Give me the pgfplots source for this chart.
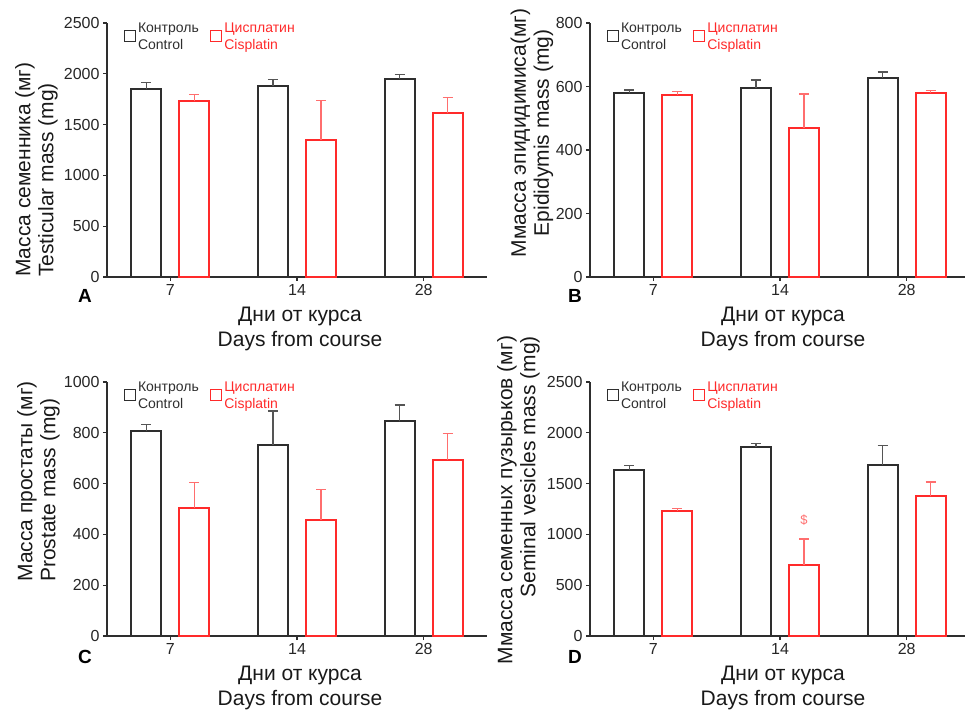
\documentclass[border=0pt]{standalone}
\usepackage{pgfplots}
\pgfplotsset{compat=1.18}
\usepackage{fontspec}
\setmainfont{Liberation Sans}
\definecolor{ctrl}{HTML}{2E2E2E}
\definecolor{ctrlerr}{HTML}{555555}
\definecolor{cis}{HTML}{FF2A2A}
\definecolor{ciserr}{HTML}{FF6E6E}

\pgfplotsset{
  panel/.style={
    scale only axis, width=380pt, height=254pt,
    xmin=-0.5, xmax=2.5, ymin=0,
    axis x line=bottom, axis y line=left,
    axis line style={-, draw=ctrl, line width=1.5pt},
    xtick={0,1,2}, xticklabels={7,14,28},
    tick align=outside, major tick length=4pt,
    tick style={draw=ctrl, line width=1.2pt},
    tick label style={font=\fontsize{16}{18}\selectfont, text=black!85},
    /pgf/number format/assume math mode=true,
    /pgf/number format/1000 sep={},
    xlabel={Дни от курса\\Days from course},
    xlabel style={at={(axis description cs:0.5,0)}, anchor=north, yshift=-30pt, xshift=3pt,
      inner sep=0pt, align=center, font=\fontsize{21}{25}\selectfont, text=black!90},
    ylabel style={font=\fontsize{21}{23}\selectfont, inner sep=0pt, text=black!90},
    clip=false,
    legend columns=2,
    legend style={draw=none, fill=none, font=\fontsize{14}{17}\selectfont,
      at={(axis description cs:0.043,1.02)}, anchor=north west, inner sep=0pt,
      /tikz/every even column/.append style={column sep=9pt}},
  },
  ctrlbar/.style={ybar, bar width=30pt, bar shift=0pt, draw=ctrl, fill=white, line width=2pt,
    legend image code/.code={\draw[draw=ctrl, line width=1.5pt, fill=white] (0pt,-10.5pt) rectangle (11pt,0.5pt);},
    error bars/.cd, y dir=plus, y explicit, error mark=|,
    error bar style={draw=ctrlerr, line width=1.3pt},
    error mark options={draw=ctrlerr, line width=1.3pt, mark size=5pt}},
  cisbar/.style={ybar, bar width=30pt, bar shift=0pt, draw=cis, fill=white, line width=2pt,
    legend image code/.code={\draw[draw=cis, line width=1.5pt, fill=white] (0pt,-10.5pt) rectangle (11pt,0.5pt);},
    error bars/.cd, y dir=plus, y explicit, error mark=|,
    error bar style={draw=ciserr, line width=1.3pt},
    error mark options={draw=ciserr, line width=1.3pt, mark size=5pt}},
}
\newcommand{\legctrl}{\addlegendentry{\begin{tabular}{@{}l@{}}\textcolor{ctrl}{Контроль}\\\textcolor{ctrl}{Control}\end{tabular}}}
\newcommand{\legcis}{\addlegendentry{\begin{tabular}{@{}l@{}}\textcolor{cis}{Цисплатин}\\\textcolor{cis}{Cisplatin}\end{tabular}}}

\begin{document}
\begin{tikzpicture}
\useasboundingbox (0,0) rectangle (965pt,709pt);
\clip (0,0) rectangle (965pt,709pt);

% A: testes  (control at day-0.19, cisplatin at day+0.19)
\begin{axis}[panel, at={(107pt,432pt)}, anchor=south west,
  ymax=2500, ytick={0,500,...,2500},
  ylabel={Масса семенника (мг)\\Testicular mass (mg)},
  ylabel style={align=left, at={(axis description cs:-0.129,0)}, anchor=south west}]
  \addplot[ctrlbar] coordinates {(-0.19,1849) +- (0,65) (0.81,1882) +- (0,65) (1.81,1947) +- (0,46)};
  \legctrl
  \addplot[cisbar] coordinates {(0.19,1730) +- (0,69) (1.19,1352) +- (0,385) (2.19,1612) +- (0,154)};
  \legcis
\end{axis}

% B: epididymis
\begin{axis}[panel, at={(590pt,432pt)}, anchor=south west,
  ymax=800, ytick={0,200,...,800},
  ylabel={Ммасса эпидидимиса(мг)\\Epididymis mass (mg)},
  ylabel style={align=center, at={(axis description cs:-0.096,0.567)}, anchor=south}]
  \addplot[ctrlbar] coordinates {(-0.19,578) +- (0,11) (0.81,595) +- (0,25) (1.81,628) +- (0,18)};
  \legctrl
  \addplot[cisbar] coordinates {(0.19,574) +- (0,10) (1.19,470) +- (0,106) (2.19,579) +- (0,8)};
  \legcis
\end{axis}

% C: prostate
\begin{axis}[panel, at={(107pt,73pt)}, anchor=south west,
  ymax=1000, ytick={0,200,...,1000},
  ylabel={Масса простаты (мг)\\Prostate mass (mg)},
  ylabel style={align=left, at={(axis description cs:-0.124,0.213)}, anchor=south west}]
  \addplot[ctrlbar] coordinates {(-0.19,809) +- (0,25) (0.81,753) +- (0,133) (1.81,845) +- (0,64)};
  \legctrl
  \addplot[cisbar] coordinates {(0.19,503) +- (0,100) (1.19,457) +- (0,121) (2.19,693) +- (0,104)};
  \legcis
\end{axis}

% D: seminal vesicles
\begin{axis}[panel, at={(590pt,73pt)}, anchor=south west,
  ymax=2500, ytick={0,500,...,2500},
  ylabel={Ммасса семенных пузырьков (мг)\\Seminal vesicles mass (mg)},
  ylabel style={align=right, at={(axis description cs:-0.132,1.182)}, anchor=south east}]
  \addplot[ctrlbar] coordinates {(-0.19,1632) +- (0,46) (0.81,1859) +- (0,39) (1.81,1681) +- (0,194)};
  \legctrl
  \addplot[cisbar] coordinates {(0.19,1234) +- (0,23) (1.19,697) +- (0,257) (2.19,1375) +- (0,141)};
  \legcis
  \node[text=ciserr, font=\fontsize{13}{14}\selectfont] at (axis cs:1.19,1145) {\$};
\end{axis}

\node[font=\fontsize{19}{20}\selectfont\bfseries] at (85pt,413pt) {A};
\node[font=\fontsize{19}{20}\selectfont\bfseries] at (575pt,413pt) {B};
\node[font=\fontsize{19}{20}\selectfont\bfseries] at (85pt,52pt) {C};
\node[font=\fontsize{19}{20}\selectfont\bfseries] at (575pt,52pt) {D};
\end{tikzpicture}
\end{document}
